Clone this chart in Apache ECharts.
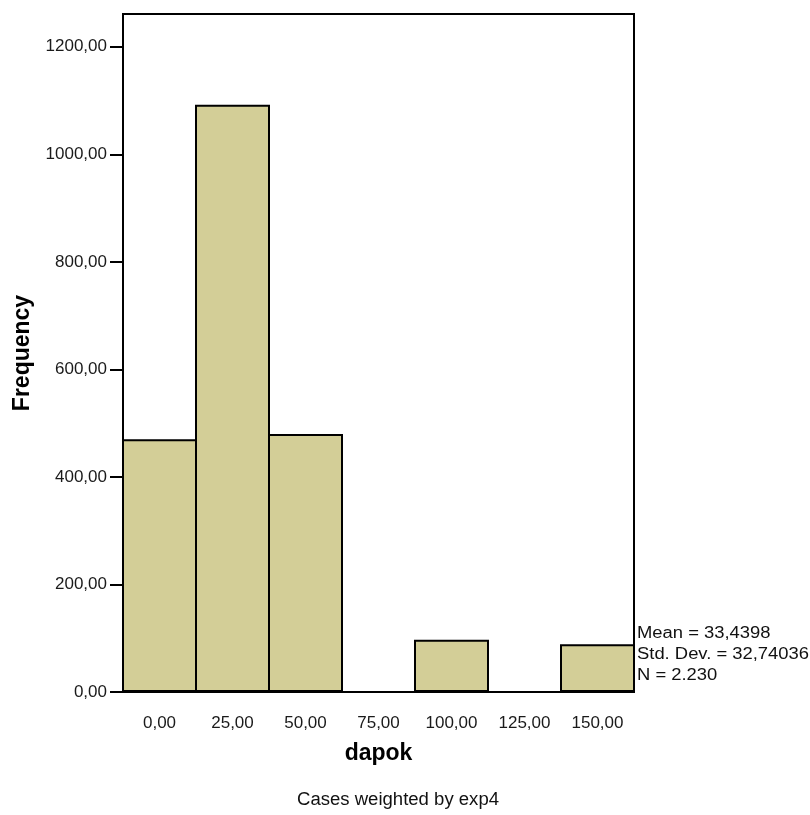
<!DOCTYPE html>
<html><head><meta charset="utf-8">
<script src="https://cdn.jsdelivr.net/npm/echarts@6/dist/echarts.min.js"></script>
<style>html,body{margin:0;padding:0;background:#fff}#c{width:810px;height:815px}</style>
</head><body><div id="c"></div>
<script>
const categories = ['0,00','25,00','50,00','75,00','100,00','125,00','150,00'];
const frequencies = [470, 1092, 480, 0, 97, 0, 89];
const yTicks = [0, 200, 400, 600, 800, 1000, 1200];
const statsLines = ['Mean = 33,4398', 'Std. Dev. = 32,74036', 'N = 2.230'];
const footer = 'Cases weighted by exp4';

const font = 'Arial, "Liberation Sans", sans-serif';
const chart = echarts.init(document.getElementById('c'), null, {renderer:'canvas'});
chart.setOption({
  animation:false,
  grid:{left:123,right:176,top:14,bottom:123,outerBoundsMode:'none',containLabel:false,
    show:true,borderColor:'#000',borderWidth:2,backgroundColor:'transparent'},
  xAxis:{type:'category',data:categories,
    axisLine:{lineStyle:{color:'#000',width:2}},
    axisTick:{alignWithLabel:true,length:12,lineStyle:{color:'#000',width:2}},
    axisLabel:{color:'#1a1a1a',fontFamily:font,fontSize:17,margin:23},
    name:'dapok',nameLocation:'middle',nameGap:50,
    nameTextStyle:{fontFamily:font,fontSize:23,fontWeight:'bold',color:'#000'}},
  yAxis:{type:'value',min:0,max:1261,interval:200,
    axisLine:{show:true,lineStyle:{color:'#000',width:2}},
    axisTick:{show:true,length:13,lineStyle:{color:'#000',width:2}},
    splitLine:{show:false},
    axisLabel:{color:'#1a1a1a',fontFamily:font,fontSize:17,margin:16,showMaxLabel:false,
      formatter:v=> yTicks.includes(v) ? v.toFixed(2).replace('.',',') : ''},
    name:'Frequency',nameLocation:'middle',nameGap:86,nameRotate:90,
    nameTextStyle:{fontFamily:font,fontSize:23,fontWeight:'bold',color:'#000'}},
  series:[{type:'bar',data:frequencies,barWidth:75,
    itemStyle:{color:'#d3ce97',borderColor:'#000',borderWidth:2}}],
  graphic:[
    ...statsLines.map((t,i)=>({type:'text',x:637,y:626+i*21,scaleX:1.15,
      style:{text:t,font:'16px '+font,fill:'#111'}})),
    {type:'text',x:297,y:791,scaleX:1.03,style:{text:footer,font:'18px '+font,fill:'#111'}}
  ]
});
</script></body></html>
